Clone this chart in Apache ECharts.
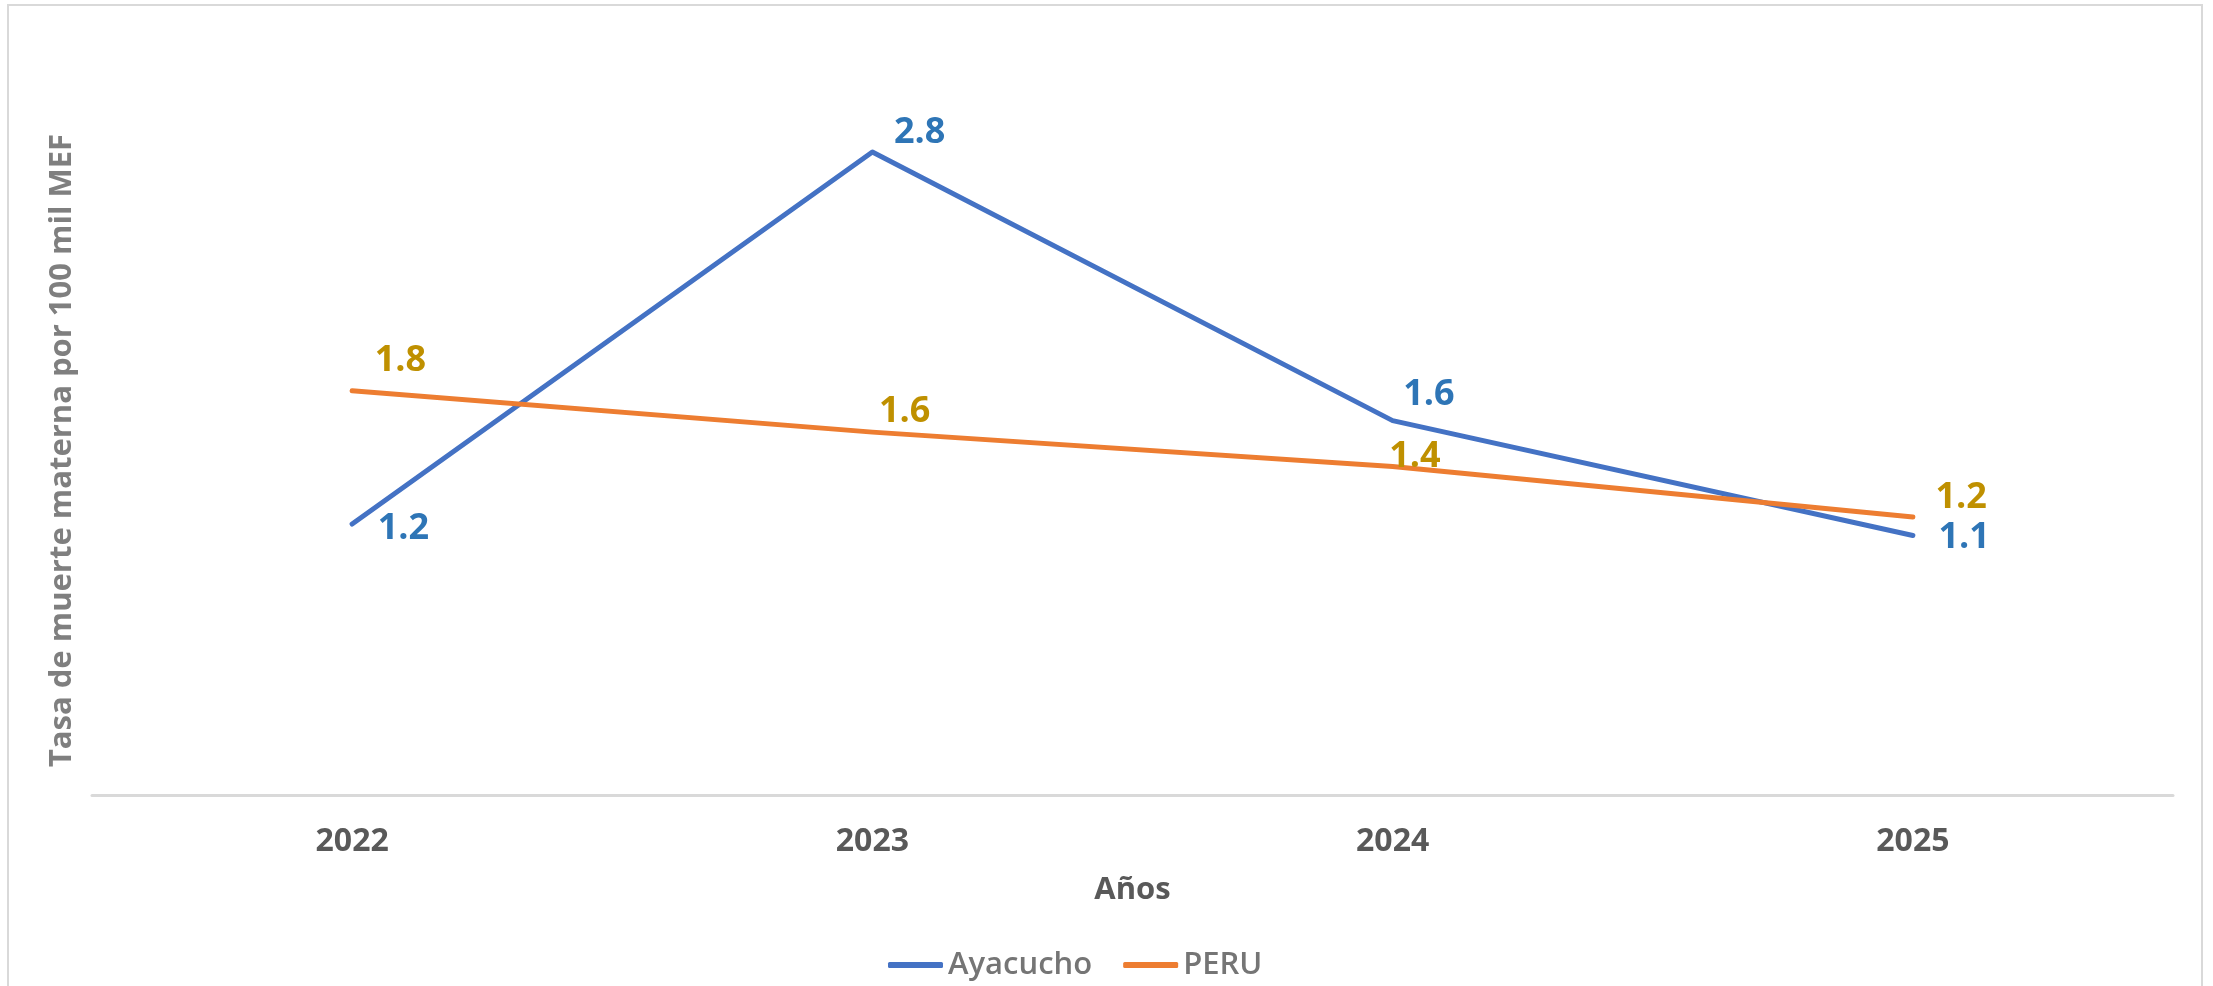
<!DOCTYPE html>
<html>
<head>
<meta charset="utf-8">
<script src="https://cdn.jsdelivr.net/npm/echarts@6/dist/echarts.min.js"></script>
<style>
html,body{margin:0;padding:0;background:#fff;}
#chart{width:2213px;height:986px;}
</style>
</head>
<body>
<div id="chart"></div>
<script>
const categories = ['2022', '2023', '2024', '2025'];
const ayacucho = [1.18, 2.8, 1.63, 1.13];
const peru = [1.76, 1.58, 1.43, 1.21];
const seriesNames = ['Ayacucho', 'PERU'];
const yAxisTitle = 'Tasa de muerte materna por 100 mil MEF';
const xAxisTitle = 'Años';

// label offsets (style only)
const ayaLabelOffsets = [[25, 5], [21, -19], [10, -26], [25, 2]];
const peruLabelOffsets = [[22, -30], [6, -20], [-4, -10], [22, -19]];

const FONT = '"Open Sans", "Noto Sans", sans-serif';

function buildData(vals, offs) {
  return vals.map((v, i) => ({ value: v, label: { offset: offs[i] } }));
}

const chart = echarts.init(document.getElementById('chart'), null, { renderer: 'canvas' });
chart.setOption({
  animation: false,
  backgroundColor: '#ffffff',
  graphic: [{
    type: 'rect',
    shape: { x: 8, y: 5, width: 2194, height: 1010 },
    style: { fill: 'none', stroke: '#d9d9d9', lineWidth: 2 },
    silent: true
  }],
  grid: { left: 92, right: 40, top: 106, bottom: 191, containLabel: false },
  legend: {
    data: seriesNames,
    left: 883,
    top: 944,
    itemWidth: 55,
    itemHeight: 6,
    itemGap: 31,
    icon: 'roundRect',
    textStyle: { fontFamily: FONT, fontSize: 31, fontWeight: 600, color: '#757575', lineHeight: 32 }
  },
  xAxis: {
    type: 'category',
    data: categories,
    boundaryGap: true,
    name: xAxisTitle,
    nameLocation: 'middle',
    nameGap: 80,
    nameTextStyle: { fontFamily: FONT, fontSize: 31, fontWeight: 'bold', color: '#595959' },
    axisLine: { show: true, lineStyle: { color: '#d9d9d9', width: 3 } },
    axisTick: { show: false },
    axisLabel: { fontFamily: FONT, fontSize: 32, fontWeight: 'bold', color: '#595959', margin: 31, lineHeight: 32 },
    splitLine: { show: false }
  },
  yAxis: {
    type: 'value',
    min: 0,
    max: 3,
    interval: 1,
    name: yAxisTitle,
    nameLocation: 'middle',
    nameGap: 14,
    nameTextStyle: { fontFamily: FONT, fontSize: 31, fontWeight: 'bold', color: '#7f7f7f' },
    axisLine: { show: false },
    axisTick: { show: false },
    axisLabel: { show: false },
    splitLine: { show: false }
  },
  series: [
    {
      name: seriesNames[0],
      type: 'line',
      data: buildData(ayacucho, ayaLabelOffsets),
      color: '#4472C4',
      symbol: 'circle',
      symbolSize: 1,
      showSymbol: true,
      lineStyle: { width: 5, color: '#4472C4', cap: 'round', join: 'round' },
      itemStyle: { color: '#4472C4' },
      label: {
        show: true, position: 'right', distance: 0,
        fontFamily: FONT, fontSize: 36, fontWeight: 'bold', color: '#2E75B6',
        formatter: p => p.value.toFixed(1)
      },
      emphasis: { disabled: true },
      z: 3
    },
    {
      name: seriesNames[1],
      type: 'line',
      data: buildData(peru, peruLabelOffsets),
      color: '#ED7D31',
      symbol: 'circle',
      symbolSize: 1,
      showSymbol: true,
      lineStyle: { width: 5, color: '#ED7D31', cap: 'round', join: 'round' },
      itemStyle: { color: '#ED7D31' },
      label: {
        show: true, position: 'right', distance: 0,
        fontFamily: FONT, fontSize: 36, fontWeight: 'bold', color: '#BF9000',
        formatter: p => p.value.toFixed(1)
      },
      emphasis: { disabled: true },
      z: 4
    }
  ]
});
</script>
</body>
</html>
